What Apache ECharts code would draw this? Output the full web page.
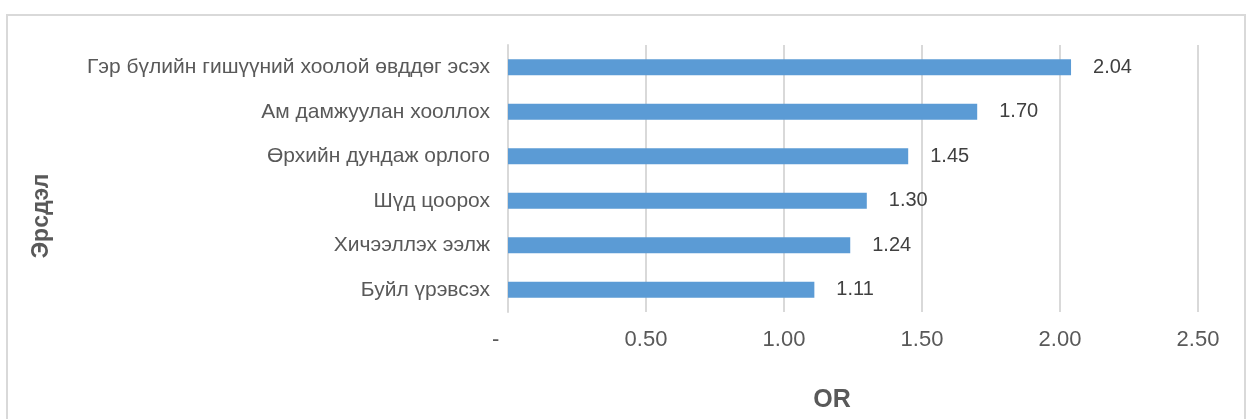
<!DOCTYPE html>
<html>
<head>
<meta charset="utf-8">
<script src="https://cdn.jsdelivr.net/npm/echarts@6/dist/echarts.min.js"></script>
<style>
  html, body { margin: 0; padding: 0; background: #fff; }
  #chart { width: 1247px; height: 419px; }
</style>
</head>
<body>
<div id="chart"></div>
<script>
// Risk factors, listed top to bottom
const categories = [
  'Гэр бүлийн гишүүний хоолой өвддөг эсэх',
  'Ам дамжуулан хооллох',
  'Өрхийн дундаж орлого',
  'Шүд цоорох',
  'Хичээллэх ээлж',
  'Буйл үрэвсэх'
];
// Odds ratios for each risk factor
const oddsRatios = [2.04, 1.70, 1.45, 1.30, 1.24, 1.11];
// Value axis range and step
const axisMin = 0;
const axisMax = 2.5;
const axisStep = 0.5;
const yAxisTitle = 'Эрсдэл';
const xAxisTitle = 'OR';

const FONT = '"Liberation Sans", Arial, sans-serif';
const chart = echarts.init(document.getElementById('chart'), null, { renderer: 'canvas' });

chart.setOption({
  backgroundColor: '#ffffff',
  animation: false,
  grid: { left: 508, right: 49, top: 45, bottom: 107, containLabel: false },
  xAxis: {
    type: 'value',
    min: axisMin,
    max: axisMax,
    interval: axisStep,
    axisLine: { show: false },
    axisTick: { show: false },
    splitLine: { show: true, lineStyle: { color: '#d9d9d9', width: 2 } },
    axisLabel: {
      margin: 17,
      fontFamily: FONT,
      fontSize: 22,
      color: '#595959',
      formatter: v => (v === 0 ? '-    ' : v.toFixed(2))
    }
  },
  yAxis: {
    type: 'category',
    data: categories,
    inverse: true,
    axisLine: { show: true, lineStyle: { color: '#d9d9d9', width: 2 } },
    axisTick: { show: false },
    axisLabel: {
      margin: 18,
      fontFamily: FONT,
      fontSize: 21,
      color: '#595959'
    }
  },
  series: [{
    type: 'bar',
    data: oddsRatios,
    barWidth: 16,
    itemStyle: { color: '#5b9bd5' },
    label: {
      show: true,
      position: 'right',
      distance: 22,
      fontFamily: FONT,
      fontSize: 20,
      color: '#404040',
      formatter: p => p.value.toFixed(2)
    }
  }],
  graphic: [
    {
      type: 'rect',
      silent: true,
      z: -1,
      shape: { x: 7, y: 15, width: 1238, height: 430 },
      style: { fill: 'none', stroke: '#d9d9d9', lineWidth: 2 }
    },
    {
      type: 'text',
      x: 42,
      y: 216,
      rotation: Math.PI / 2,
      style: {
        text: yAxisTitle,
        fontFamily: FONT,
        fontSize: 23,
        fontWeight: 'bold',
        fill: '#595959',
        align: 'center',
        verticalAlign: 'middle'
      }
    },
    {
      type: 'text',
      x: 832,
      y: 400,
      style: {
        text: xAxisTitle,
        fontFamily: FONT,
        fontSize: 25,
        fontWeight: 'bold',
        fill: '#595959',
        align: 'center',
        verticalAlign: 'middle'
      }
    }
  ]
});
</script>
</body>
</html>
